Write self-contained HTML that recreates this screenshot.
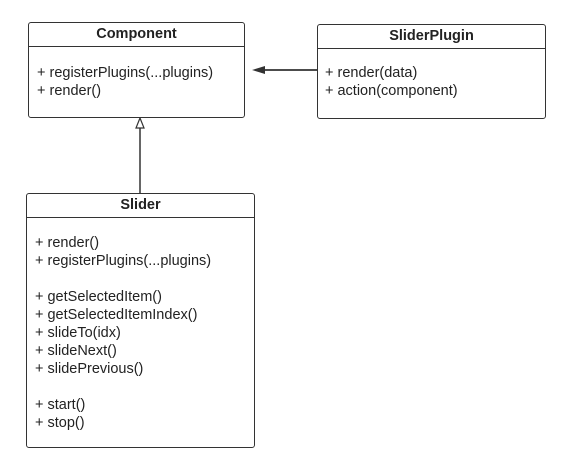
<!DOCTYPE html>
<html><head><style>
body{margin:0;width:566px;height:467px;background:#fff;position:relative;font-family:"Liberation Sans",sans-serif;color:#222;}
.box{position:absolute;border:1.5px solid #333;border-radius:3px;background:#fff;box-sizing:border-box;}
.hd{height:23px;border-bottom:1.5px solid #333;text-align:center;font-weight:bold;font-size:14.5px;line-height:23px;}
.t{position:absolute;font-size:14.5px;white-space:nowrap;line-height:18px;}
</style></head><body>
<svg width="566" height="467" style="position:absolute;left:0;top:0">
<line x1="317" y1="70" x2="258" y2="70" stroke="#333" stroke-width="1.8"/>
<polygon points="252,70 265,66 265,74" fill="#333"/>
<line x1="140" y1="193" x2="140" y2="126" stroke="#333" stroke-width="1.5"/>
<polygon points="140,118 136,128 144,128" fill="#fff" stroke="#333" stroke-width="1.2"/>
</svg>
<div class="box" style="left:28px;top:22px;width:217px;height:96px"><div class="hd">Component</div></div>
<div class="box" style="left:317px;top:24px;width:229px;height:95px"><div class="hd">SliderPlugin</div></div>
<div class="box" style="left:26px;top:193px;width:229px;height:255px"><div class="hd">Slider</div></div>
<div class="t" style="left:37px;top:64px">+ registerPlugins(...plugins)<br>+ render()</div>
<div class="t" style="left:325px;top:64px">+ render(data)<br>+ action(component)</div>
<div class="t" style="left:35px;top:234px">+ render()<br>+ registerPlugins(...plugins)</div>
<div class="t" style="left:35px;top:288px">+ getSelectedItem()<br>+ getSelectedItemIndex()<br>+ slideTo(idx)<br>+ slideNext()<br>+ slidePrevious()</div>
<div class="t" style="left:35px;top:396px">+ start()<br>+ stop()</div>
</body></html>
